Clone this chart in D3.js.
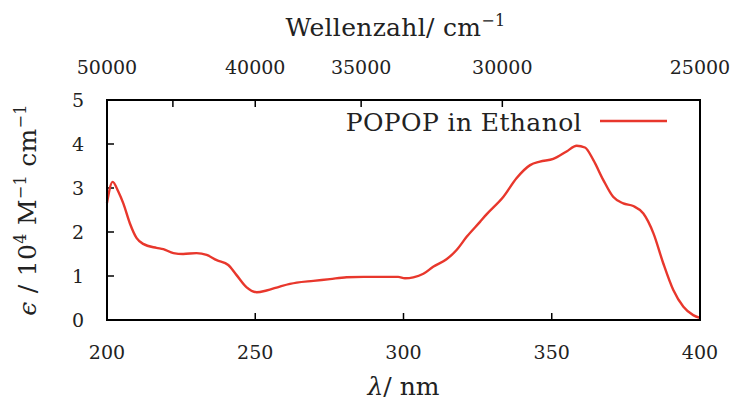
<!DOCTYPE html>
<html><head><meta charset="utf-8">
<script src="https://cdn.jsdelivr.net/npm/d3@7"></script>
<style>body{margin:0;background:#fff}svg{display:block}text{font-family:"DejaVu Serif",serif;fill:#222}</style>
</head><body><svg id="c" width="735" height="403"></svg>
<script>
const wavelengths = [200,201.9,203.8,205.5,207.7,210,212.2,216.7,219,222.4,225.7,230.2,233.6,237,240.9,243.7,247.1,250.5,253.8,258.3,261.7,264,269.6,275.2,280.8,286.5,292,298.2,300.5,303.3,306.7,310,314.5,317.9,321.3,325.8,328,333.7,338.1,342.7,346,350.5,355,358.4,361.2,364,367.4,370.7,374.1,377.5,380.9,384.3,387.6,391,394.4,397.7,400];
const epsilon = [2.66,3.14,2.92,2.65,2.20,1.86,1.73,1.64,1.61,1.52,1.50,1.52,1.48,1.36,1.25,1.02,0.74,0.63,0.67,0.76,0.82,0.85,0.89,0.93,0.97,0.98,0.98,0.98,0.95,0.97,1.05,1.21,1.38,1.59,1.89,2.23,2.40,2.80,3.22,3.52,3.60,3.66,3.83,3.96,3.92,3.64,3.18,2.80,2.65,2.59,2.42,1.97,1.29,0.68,0.30,0.11,0.05];
const seriesName = "POPOP in Ethanol";
const xTicks = [200,250,300,350,400];
const yTicks = [0,1,2,3,4,5];
const topTicks = [50000,45000,40000,35000,30000,25000];
const topLabels = [50000,40000,35000,30000,25000];

const svg = d3.select("#c");
const L=107,R=700,T=100,B=320;
const x = d3.scaleLinear().domain([200,400]).range([L,R]);
const y = d3.scaleLinear().domain([0,5]).range([B,T]);
const red = "#e8372c";

const g = svg.append("g");
xTicks.slice(1,-1).forEach(v=>g.append("line").attr("x1",x(v)).attr("x2",x(v)).attr("y1",B).attr("y2",B-7).attr("stroke","#000").attr("stroke-width",1.5));
yTicks.slice(1,-1).forEach(v=>g.append("line").attr("x1",L).attr("x2",L+7).attr("y1",y(v)).attr("y2",y(v)).attr("stroke","#000").attr("stroke-width",1.5));
topTicks.slice(1,-1).forEach(v=>{const px=x(1e7/v);g.append("line").attr("x1",px).attr("x2",px).attr("y1",T).attr("y2",T+7).attr("stroke","#000").attr("stroke-width",1.5);});

xTicks.forEach(v=>svg.append("text").attr("x",x(v)).attr("y",359).attr("text-anchor","middle").attr("font-size",19).text(v));
yTicks.forEach(v=>svg.append("text").attr("x",84).attr("y",y(v)+7).attr("text-anchor","end").attr("font-size",19).text(v));
topLabels.forEach(v=>svg.append("text").attr("x",x(1e7/v)).attr("y",74).attr("text-anchor","middle").attr("font-size",19).text(v));

const big = 25;
const tt = svg.append("text").attr("x",(L+R)/2-8).attr("y",36).attr("text-anchor","middle").attr("font-size",big).attr("letter-spacing",0.3);
tt.append("tspan").text("Wellenzahl/ cm");
tt.append("tspan").attr("dy",-10).attr("font-size",16).text("−1");
const bt = svg.append("text").attr("x",(L+R)/2).attr("y",395).attr("text-anchor","middle").attr("font-size",big);
bt.append("tspan").attr("font-style","italic").text("λ");
bt.append("tspan").text("/ nm");
const yt = svg.append("text").attr("transform",`translate(36,${(T+B)/2}) rotate(-90)`).attr("text-anchor","middle").attr("font-size",big).attr("letter-spacing",0.3);
yt.append("tspan").attr("font-style","italic").text("ϵ");
yt.append("tspan").text(" / 10");
yt.append("tspan").attr("dy",-10).attr("font-size",16).text("4");
yt.append("tspan").attr("dy",10).text(" M");
yt.append("tspan").attr("dy",-10).attr("font-size",16).text("−1");
yt.append("tspan").attr("dy",10).text(" cm");
yt.append("tspan").attr("dy",-10).attr("font-size",16).text("−1");

const pts = wavelengths.map((w,i)=>[w,epsilon[i]]);
svg.append("path").datum(pts).attr("fill","none").attr("stroke",red).attr("stroke-width",2.4)
  .attr("d",d3.line().x(d=>x(d[0])).y(d=>y(d[1])).curve(d3.curveMonotoneX));

svg.append("text").attr("x",582).attr("y",131).attr("text-anchor","end").attr("font-size",big).attr("letter-spacing",0.4).text(seriesName);
svg.append("line").attr("x1",600).attr("x2",667).attr("y1",121).attr("y2",121).attr("stroke",red).attr("stroke-width",2.4);

svg.append("rect").attr("x",L).attr("y",T).attr("width",R-L).attr("height",B-T).attr("fill","none").attr("stroke","#000").attr("stroke-width",2);
</script></body></html>
